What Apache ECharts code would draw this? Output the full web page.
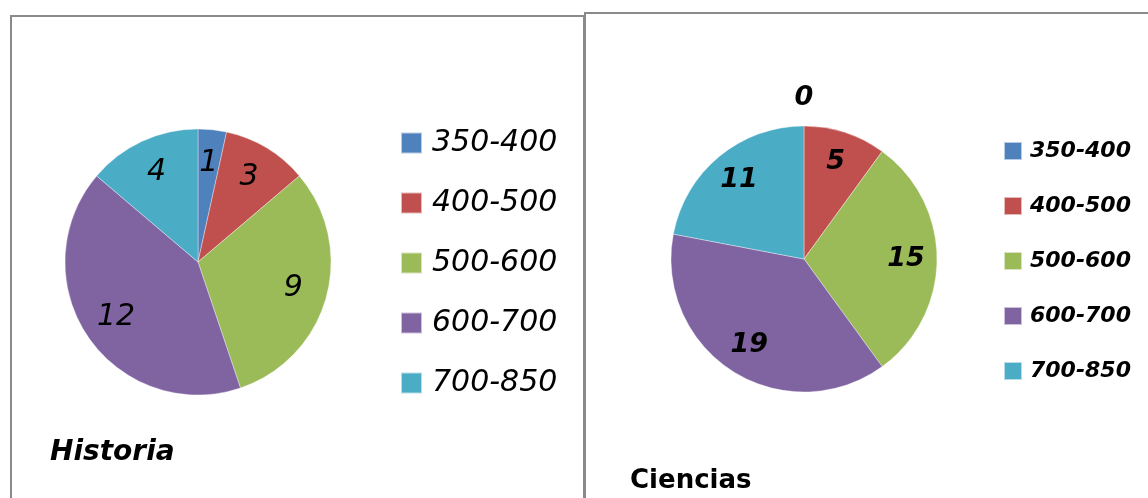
<!DOCTYPE html>
<html>
<head>
<meta charset="utf-8">
<script src="https://cdn.jsdelivr.net/npm/echarts@6/dist/echarts.min.js"></script>
<style>html,body{margin:0;padding:0;background:#fff;}#c{width:1148px;height:498px;}</style>
</head>
<body>
<div id="c"></div>
<script>
const categories = ['350-400', '400-500', '500-600', '600-700', '700-850'];
const historiaValues = [1, 3, 9, 12, 4];
const cienciasValues = [0, 5, 15, 19, 11];
const titles = ['Historia', 'Ciencias'];
const colors = ['#4F81BD', '#C0504D', '#9BBB59', '#8064A2', '#4BACC6'];

const FONT = '"DejaVu Sans", sans-serif';
function toData(vals) { return categories.map((n, i) => ({ name: n, value: vals[i] })); }

function pieSet(vals, center, r, r0lab, labStyle) {
  return [
    {
      type: 'pie', center: center, radius: [0, r], startAngle: 90, clockwise: true,
      data: toData(vals), label: { show: false }, labelLine: { show: false },
      itemStyle: { borderColor: 'rgba(255,255,255,0.6)', borderWidth: 0.6 },
      emphasis: { disabled: true }, silent: true
    },
    {
      type: 'pie', center: center, radius: [r0lab, r], startAngle: 90, clockwise: true,
      data: toData(vals), silent: true, emphasis: { disabled: true }, legendHoverLink: false,
      itemStyle: { color: 'rgba(0,0,0,0)' },
      label: Object.assign({ show: true, position: 'inside', formatter: p => p.value > 0 ? String(p.value) : '' }, labStyle),
      labelLine: { show: false }
    },
    {
      type: 'pie', center: center, radius: [r, r + 50], startAngle: 90, clockwise: true,
      data: toData(vals), silent: true, emphasis: { disabled: true }, legendHoverLink: false,
      itemStyle: { color: 'rgba(0,0,0,0)' },
      label: Object.assign({ show: true, position: 'inside', formatter: p => p.value === 0 ? String(p.value) : '' }, labStyle),
      labelLine: { show: false }
    }
  ];
}

const chart = echarts.init(document.getElementById('c'), null, { renderer: 'canvas' });
chart.setOption({
  animation: false,
  color: colors,
  graphic: [
    { type: 'rect', shape: { x: 11, y: 16, width: 573, height: 520 }, style: { fill: 'none', stroke: '#8a8a8a', lineWidth: 2 }, z: -1 },
    { type: 'rect', shape: { x: 585, y: 13, width: 620, height: 520 }, style: { fill: 'none', stroke: '#8a8a8a', lineWidth: 2 }, z: -1 }
  ],
  title: [
    { text: titles[0], left: 45, top: 434, textStyle: { fontFamily: FONT, fontSize: 28, fontWeight: 'bold', fontStyle: 'italic', color: '#000' } },
    { text: titles[1], left: 625, top: 463, textStyle: { fontFamily: FONT, fontSize: 26, fontWeight: 'bold', color: '#000' } }
  ],
  legend: [
    {
      orient: 'vertical', left: 395, top: 123, icon: 'rect', itemWidth: 21, itemHeight: 21, itemGap: 30,
      data: categories, selectedMode: false,
      textStyle: { fontFamily: FONT, fontSize: 30, fontStyle: 'italic', color: '#000', lineHeight: 30, padding: [0, 0, 0, 5] }
    },
    {
      orient: 'vertical', left: 998, top: 134, icon: 'rect', itemWidth: 18, itemHeight: 18, itemGap: 31,
      data: categories, selectedMode: false,
      textStyle: { fontFamily: FONT, fontSize: 22, fontStyle: 'italic', fontWeight: 'bold', color: '#000', lineHeight: 24, padding: [0, 0, 0, 3] }
    }
  ],
  series: [].concat(
    pieSet(historiaValues, [198, 262], 133, 59, { fontFamily: FONT, fontSize: 30, fontStyle: 'italic', color: '#000' }),
    pieSet(cienciasValues, [804, 259], 133, 65, { fontFamily: FONT, fontSize: 27, fontStyle: 'italic', fontWeight: 'bold', color: '#000' })
  )
});
</script>
</body>
</html>
